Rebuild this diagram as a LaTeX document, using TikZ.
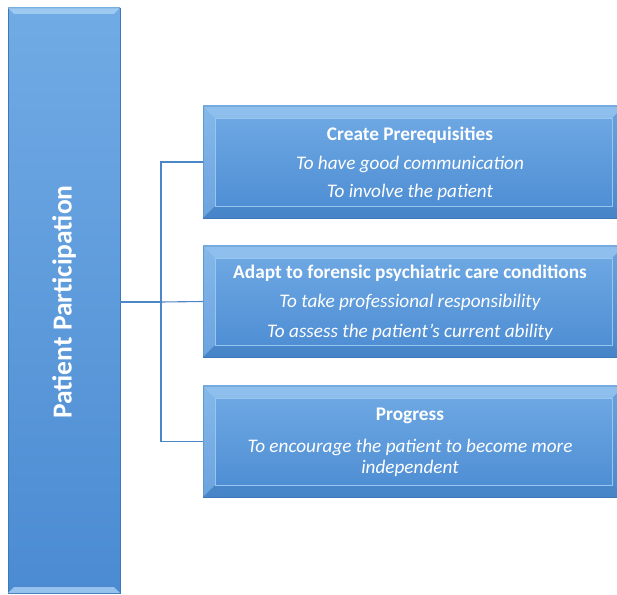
\documentclass[tikz,border=0pt]{standalone}
\usepackage{fontspec}
\setmainfont{Carlito}
\usetikzlibrary{calc}
\definecolor{boxtop}{HTML}{71ABE5}
\definecolor{boxbot}{HTML}{4B8BD2}
\definecolor{bevlight}{HTML}{A9D2F5}
\definecolor{bevdark}{HTML}{3F78B8}
\definecolor{conn}{HTML}{4A86C8}
\tikzset{
  x=1pt,y=1pt,
  boxshade/.style={top color=boxtop,bottom color=boxbot,draw=bevdark,line width=0.6pt},
  inner/.style={draw=bevlight!70!boxtop,line width=0.5pt},
  connector/.style={draw=conn,line width=1.1pt},
  ttl/.style={text=white,font=\fontsize{19.3}{22}\selectfont\bfseries},
  itl/.style={text=white,font=\fontsize{19.2}{22}\selectfont\itshape},
}
\newcommand{\bevbox}[5]{% name, x1, y1 (top), x2, y2 (bottom)
  \path[boxshade] (#2,#3) rectangle (#4,#5);
  \fill[bevlight,opacity=0.55] (#2,#3) -- (#4,#3) -- ($(#4,#3)+(-12,-12)$) -- ($(#2,#3)+(12,-12)$) -- cycle;
  \fill[bevlight,opacity=0.35] (#2,#3) -- ($(#2,#3)+(12,-12)$) -- ($(#2,#5)+(12,12)$) -- (#2,#5) -- cycle;
  \fill[bevdark,opacity=0.35] (#2,#5) -- ($(#2,#5)+(12,12)$) -- ($(#4,#5)+(-12,12)$) -- (#4,#5) -- cycle;
  \fill[bevdark,opacity=0.15] (#4,#3) -- ($(#4,#3)+(-12,-12)$) -- ($(#4,#5)+(-12,12)$) -- (#4,#5) -- cycle;
  \path[inner] ($(#2,#3)+(12,-12)$) rectangle ($(#4,#5)+(-12,12)$);
  \coordinate (#1w) at (#2,{(#3+#5)/2});
}
\begin{document}
\begin{tikzpicture}
\useasboundingbox (0,0) rectangle (617,594);
\begin{scope}
\clip (0,0) rectangle (617,594);
% left box
\path[boxshade] (8,586) rectangle (120,1);
\fill[bevlight,opacity=0.8] (8,586) -- (120,586) -- (114,580) -- (14,580) -- cycle;
\fill[bevlight,opacity=0.8] (14,7) -- (114,7) -- (120,1) -- (8,1) -- cycle;
\coordinate (mainE) at (120,292);
\node[rotate=90,text=white,font=\fontsize{27.5}{30}\selectfont\bfseries] (main) at (64,292) {Patient Participation};
% right boxes
\bevbox{b1}{203}{488}{624}{376}
\bevbox{b2}{203}{348}{624}{237}
\bevbox{b3}{203}{208}{624}{97}
\node[ttl] (t1) at (410,459) {Create Prerequisities};
\node[itl] (s1a) at (410,430) {To have good communication};
\node[itl] (s1b) at (410,402) {To involve the patient};
\node[ttl] (t2) at (410,321) {Adapt to forensic psychiatric care conditions};
\node[itl] (s2a) at (410,292) {To take professional responsibility};
\node[itl] (s2b) at (410,262) {To assess the patient’s current ability};
\node[ttl] (t3) at (410,178) {Progress};
\node[itl] (s3a) at (410,147) {To encourage the patient to become more};
\node[itl] (s3b) at (410,126) {independent};
\end{scope}
% connectors
\coordinate (jn) at (161,292);
\draw[connector] (mainE) -- (jn);
\draw[connector] (jn) |- (b1w);
\draw[connector] (jn) -- (b2w);
\draw[connector] (jn) |- (b3w);
\end{tikzpicture}
\end{document}
